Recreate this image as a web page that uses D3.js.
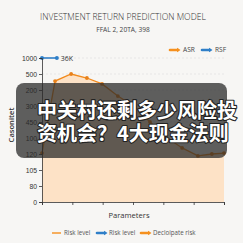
<!DOCTYPE html>
<html><head><meta charset="utf-8">
<script src="https://cdn.jsdelivr.net/npm/d3@7/dist/d3.min.js"></script>
<style>
html,body{margin:0;padding:0;background:#f7f6f4;}
svg{display:block;font-family:"Open Sans","Noto Sans",sans-serif;}
</style></head>
<body>
<svg id="c" width="243" height="243"></svg>
<script>
// ---- data ----
const title = "INVESTMENT RETURN PREDICTION MODEL";
const subtitle = "FFAL 2, 20TA, 398";
const yTickLabels = ["0","80","105","120","100","450","300","200","500","1000"]; // bottom -> top
const xTickPositions = [0,1,2,3,4,5,6];
const orangeX = [0, 0.43, 0.96, 1.48, 1.98, 2.5, 3.07, 3.56, 4.09, 4.62, 5.14, 5.6, 6.0];
const orangeY = [3.06, 7.56, 8.0, 7.75, 7.38, 6.62, 5.94, 5.0, 4.06, 3.38, 2.88, 3.0, 3.06];
const blueX = [0, 0.49];
const blueY = [9, 9];
const blueAreaPts = [[0,9],[0.49,9],[0,3.9]];
const blueLabel = "36K";
const topLegend = [{name:"ASR", color:"#f5901e"},{name:"RSF", color:"#2f7fc8"}];
const bottomLegend = [{name:"Risk level", color:"#f5901e", type:"line"},{name:"Risk level", color:"#2f7fc8", type:"arrow"},{name:"Decloipate risk", color:"#f5901e", type:"arrow"}];
const bannerLines = ["中关村还剩多少风险投","资机会？4大现金法则"];

// ---- chart ----
const svg = d3.select("#c");
const x = d3.scaleLinear().domain([0,6]).range([42,224]);
const y = d3.scaleLinear().domain([0,9]).range([202,58]);

svg.append("rect").attr("width",243).attr("height",243).attr("fill","#f7f6f4");

svg.append("text").attr("x",123).attr("y",20).attr("text-anchor","middle")
  .attr("font-size",8.6).attr("fill","#333").attr("font-weight",300).text(title);
svg.append("text").attr("x",123).attr("y",31.5).attr("text-anchor","middle")
  .attr("font-size",6.6).attr("fill","#444").text(subtitle);

// gridlines
svg.append("g").selectAll("line").data(d3.range(yTickLabels.length)).join("line")
  .attr("x1",x(0)).attr("x2",x(6)).attr("y1",d=>y(d)).attr("y2",d=>y(d))
  .attr("stroke","#ddd").attr("stroke-dasharray","2,2").attr("stroke-width",0.6);

// orange area
const pts = orangeX.map((v,i)=>[v,orangeY[i]]);
svg.append("path").datum(pts)
  .attr("d", d3.area().x(d=>x(d[0])).y0(y(0)).y1(d=>y(d[1])))
  .attr("fill","#fde2c6");

// blue area
svg.append("path").datum(blueAreaPts)
  .attr("d", d3.line().x(d=>x(d[0])).y(d=>y(d[1]))+"Z")
  .attr("fill","#9cc4e8").attr("opacity",0.9);

// orange line
svg.append("path").datum(pts)
  .attr("d", d3.line().x(d=>x(d[0])).y(d=>y(d[1])))
  .attr("fill","none").attr("stroke","#f28a1c").attr("stroke-width",1.3);
svg.append("g").selectAll("circle").data(pts).join("circle")
  .attr("cx",d=>x(d[0])).attr("cy",d=>y(d[1])).attr("r",1.9).attr("fill","#e8811a");

// blue line
const bpts = blueX.map((v,i)=>[v,blueY[i]]);
svg.append("path").datum(bpts)
  .attr("d", d3.line().x(d=>x(d[0])).y(d=>y(d[1])))
  .attr("fill","none").attr("stroke","#2f7fc8").attr("stroke-width",1.6);
svg.append("g").selectAll("circle").data(bpts).join("circle")
  .attr("cx",d=>x(d[0])).attr("cy",d=>y(d[1])).attr("r",2).attr("fill","#2f7fc8");
svg.append("text").attr("x",x(blueX[1])+4).attr("y",y(blueY[1])+2.5)
  .attr("font-size",7).attr("fill","#333").text(blueLabel);

// axes
const yAxis = d3.axisLeft(y).tickValues(d3.range(yTickLabels.length))
  .tickFormat(i=>yTickLabels[i]).tickSize(3).tickPadding(2);
const gy = svg.append("g").attr("transform",`translate(${x(0)},0)`).call(yAxis);
gy.selectAll("text").attr("font-size",6.8).attr("fill","#333");
gy.selectAll("line,path").attr("stroke","#333").attr("stroke-width",0.8);

const xAxis = d3.axisBottom(x).tickValues(xTickPositions).tickFormat("").tickSize(3);
const gx = svg.append("g").attr("transform",`translate(0,${y(0)})`).call(xAxis);
gx.selectAll("line,path").attr("stroke","#333").attr("stroke-width",0.8);

svg.append("text").attr("x",129).attr("y",218).attr("text-anchor","middle")
  .attr("font-size",7.6).attr("fill","#333").attr("font-weight",500).text("Parameters");
svg.append("text").attr("transform","translate(14,125) rotate(-90)").attr("text-anchor","middle")
  .attr("font-size",7.6).attr("font-weight",600).attr("fill","#333").text("Casonitet");

// top legend
const tl = svg.append("g");
const tlx = [170, 202];
topLegend.forEach((d,i)=>{
  const g = tl.append("g").attr("transform",`translate(${tlx[i]},50)`);
  g.append("line").attr("x1",0).attr("x2",8).attr("stroke",d.color).attr("stroke-width",2.6).attr("stroke-linecap","round");
  g.append("path").attr("d","M7,-2.2L10.5,0L7,2.2Z").attr("fill",d.color);
  g.append("text").attr("x",13).attr("y",2.3).attr("font-size",6.6).attr("fill","#444").text(d.name);
});

// bottom legend
const blx = [52, 97, 141];
bottomLegend.forEach((d,i)=>{
  const g = svg.append("g").attr("transform",`translate(${blx[i]},233)`);
  if(d.type==="line"){
    g.append("line").attr("x1",0).attr("x2",9).attr("stroke",d.color).attr("stroke-width",1.4);
  } else {
    g.append("line").attr("x1",0).attr("x2",8).attr("stroke",d.color).attr("stroke-width",2.6).attr("stroke-linecap","round");
    g.append("path").attr("d","M7,-2.2L10.5,0L7,2.2Z").attr("fill",d.color);
  }
  g.append("text").attr("x",12).attr("y",2.2).attr("font-size",6.2).attr("fill","#555").text(d.name);
});

// banner overlay
svg.append("rect").attr("x",16).attr("y",83).attr("width",211).attr("height",75).attr("rx",8)
  .attr("fill","rgba(40,40,40,0.74)");
const ty = [118, 141];
bannerLines.forEach((t,i)=>{
  svg.append("text").attr("x",37).attr("y",ty[i])
    .attr("font-family","'Noto Sans CJK SC',sans-serif").attr("font-weight",700).attr("font-size",20)
    .attr("fill","#fff").attr("stroke","#222").attr("stroke-width",2.2).attr("paint-order","stroke")
    .attr("stroke-linejoin","round").text(t);
});
</script>
</body></html>
